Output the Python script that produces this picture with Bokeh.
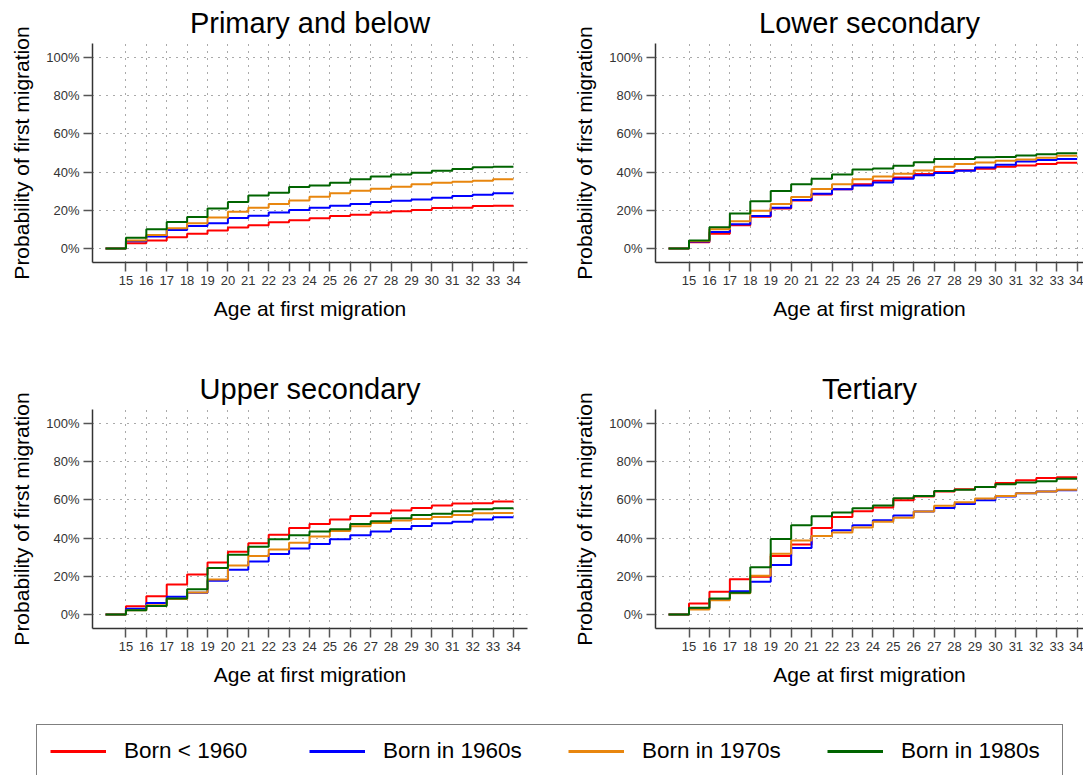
from bokeh.plotting import figure
from bokeh.layouts import column, row
from bokeh.models import Range1d, FixedTicker, PrintfTickFormatter, Legend, LegendItem
from bokeh.embed import file_html
from bokeh.resources import INLINE

# Cumulative probability (%) of first migration by age, ages 14..34
ages = list(range(14, 35))
x_ticks = list(range(15, 35))
y_ticks = [0, 20, 40, 60, 80, 100]

cohorts = ["Born < 1960", "Born in 1960s", "Born in 1970s", "Born in 1980s"]
colors = ["#ff0000", "#0000ff", "#e8860e", "#006400"]

primary_pre1960 = [0, 2.8, 4.2, 5.9, 7.7, 9.4, 11.0, 12.2, 13.7, 14.8, 15.8, 17.0, 17.7, 18.8, 19.5, 20.2, 21.2, 21.4, 22.3, 22.4, 22.4]
primary_1960s = [0, 3.8, 6.3, 9.7, 11.8, 13.2, 16.0, 17.2, 18.8, 20.2, 21.4, 22.4, 23.3, 24.3, 25.0, 25.7, 26.6, 27.5, 28.2, 28.9, 28.9]
primary_1970s = [0, 4.2, 7.1, 10.6, 13.2, 16.2, 19.3, 21.4, 23.3, 25.2, 27.1, 28.9, 30.3, 31.3, 32.3, 33.6, 34.4, 35.0, 35.5, 36.2, 36.2]
primary_1980s = [0, 5.7, 10.1, 13.9, 16.5, 21.0, 24.3, 27.8, 29.2, 32.2, 33.0, 34.4, 36.3, 37.7, 38.8, 39.7, 40.7, 41.6, 42.6, 42.8, 42.8]

lowersec_pre1960 = [0, 3.3, 7.7, 12.2, 16.7, 21.0, 25.2, 28.3, 31.0, 33.6, 35.5, 37.2, 39.0, 40.0, 41.0, 41.7, 42.8, 43.5, 44.2, 44.9, 44.9]
lowersec_1960s = [0, 3.7, 8.7, 12.7, 17.0, 21.4, 25.4, 28.7, 31.0, 33.0, 34.6, 36.5, 38.3, 39.5, 40.7, 42.4, 43.8, 45.6, 46.4, 46.8, 46.8]
lowersec_1970s = [0, 4.0, 10.1, 14.3, 19.8, 23.3, 27.0, 31.1, 33.6, 36.2, 37.7, 39.1, 40.9, 42.8, 44.2, 45.0, 45.9, 46.6, 47.5, 48.5, 48.5]
lowersec_1980s = [0, 4.2, 11.1, 18.3, 24.7, 30.1, 33.7, 36.5, 38.8, 41.4, 41.9, 43.3, 45.2, 46.8, 46.8, 47.8, 47.9, 48.7, 49.4, 49.9, 49.9]

uppersec_pre1960 = [0, 4.4, 9.6, 15.7, 21.0, 27.3, 32.9, 37.3, 41.8, 45.3, 47.4, 49.7, 51.6, 53.0, 54.4, 55.8, 57.0, 58.1, 58.3, 59.1, 59.1]
uppersec_1960s = [0, 3.0, 6.1, 9.3, 11.4, 17.7, 23.4, 27.8, 31.7, 34.5, 36.9, 39.4, 41.5, 43.4, 44.8, 46.4, 47.8, 48.6, 49.7, 50.9, 50.9]
uppersec_1970s = [0, 2.3, 4.9, 8.2, 11.5, 18.4, 25.7, 30.6, 34.1, 37.6, 40.8, 43.7, 46.2, 47.9, 49.2, 50.0, 51.1, 52.1, 53.0, 53.2, 53.2]
uppersec_1980s = [0, 2.3, 4.5, 8.4, 13.3, 24.3, 31.3, 35.5, 39.4, 41.5, 43.4, 44.6, 47.4, 48.8, 50.4, 52.1, 52.7, 54.1, 55.1, 55.6, 55.6]

tertiary_pre1960 = [0, 5.8, 11.9, 18.5, 19.8, 30.6, 36.7, 45.3, 51.1, 54.1, 56.0, 59.8, 61.8, 64.4, 65.6, 66.8, 68.8, 70.3, 71.4, 71.9, 71.9]
tertiary_1960s = [0, 3.3, 8.2, 12.2, 17.1, 25.9, 34.8, 41.1, 44.1, 46.7, 49.3, 51.8, 53.9, 55.8, 57.9, 59.8, 61.8, 63.5, 64.4, 65.1, 65.1]
tertiary_1970s = [0, 2.6, 7.5, 11.2, 20.3, 31.8, 38.7, 41.1, 42.9, 45.6, 48.6, 50.7, 53.9, 56.9, 58.8, 60.7, 62.1, 63.5, 64.4, 65.3, 65.3]
tertiary_1980s = [0, 3.5, 8.4, 11.4, 24.8, 39.5, 46.7, 51.4, 53.4, 55.6, 57.0, 60.9, 62.1, 64.6, 65.3, 66.8, 68.2, 69.1, 69.8, 71.0, 71.0]

FONT = "Liberation Sans"


def panel(title, series, width, height, x_end, border_left, border_right, border_bottom):
    p = figure(width=width, height=height, output_backend="svg", toolbar_location=None,
               x_range=Range1d(13.36, x_end), y_range=Range1d(-7.3, 107.3),
               min_border_left=border_left, min_border_right=border_right,
               min_border_top=43, min_border_bottom=border_bottom)
    p.outline_line_color = None
    p.background_fill_color = "white"
    p.border_fill_color = "white"

    p.title.text = title
    p.title.align = "center"
    p.title.text_font = FONT
    p.title.text_font_size = "29px"
    p.title.text_font_style = "normal"
    p.title.text_color = "black"
    p.title.standoff = 9

    for ax in (p.xaxis[0], p.yaxis[0]):
        ax.axis_line_color = "#333333"
        ax.axis_line_width = 1.5
        ax.major_tick_in = 0
        ax.major_tick_out = 9
        ax.major_tick_line_color = "#555555"
        ax.major_tick_line_width = 1.5
        ax.minor_tick_line_color = None
        ax.major_label_text_font = FONT
        ax.major_label_text_font_size = "13px"
        ax.major_label_text_color = "#333333"
        ax.major_label_standoff = 4
        ax.axis_label_text_font = FONT
        ax.axis_label_text_font_size = "21px"
        ax.axis_label_text_font_style = "normal"
        ax.axis_label_text_color = "black"

    p.xaxis.ticker = FixedTicker(ticks=x_ticks)
    p.xaxis.axis_label = "Age at first migration"
    p.xaxis.axis_label_standoff = 9
    p.yaxis.ticker = FixedTicker(ticks=y_ticks)
    p.yaxis.formatter = PrintfTickFormatter(format="%d%%")
    p.yaxis.axis_label = "Probability of first migration"
    p.yaxis.axis_label_standoff = 10

    p.xgrid.ticker = FixedTicker(ticks=x_ticks)
    p.ygrid.ticker = FixedTicker(ticks=y_ticks)
    for g in (p.xgrid[0], p.ygrid[0]):
        g.grid_line_color = "#555555"
        g.grid_line_dash = "1 6"
        g.grid_line_width = 1

    for vals, c in zip(series, colors):
        p.step(ages, vals, mode="after", line_color=c, line_width=2)
    return p


p1 = panel("Primary and below",
           [primary_pre1960, primary_1960s, primary_1970s, primary_1980s],
           541, 366, 34.69, 92, 14, 104)
p2 = panel("Lower secondary",
           [lowersec_pre1960, lowersec_1960s, lowersec_1970s, lowersec_1980s],
           542, 366, 34.31, 114, 0, 104)
p3 = panel("Upper secondary",
           [uppersec_pre1960, uppersec_1960s, uppersec_1970s, uppersec_1980s],
           541, 356, 34.69, 92, 14, 94)
p4 = panel("Tertiary",
           [tertiary_pre1960, tertiary_1960s, tertiary_1970s, tertiary_1980s],
           542, 356, 34.31, 114, 0, 94)

# Shared legend strip along the bottom; the key lines sit outside the visible range
lf = figure(width=1083, height=53, output_backend="svg", toolbar_location=None,
            min_border=0, x_range=Range1d(0, 1), y_range=Range1d(0, 1))
lf.axis.visible = False
lf.grid.visible = False
lf.outline_line_color = None
items = []
for name, c in zip(cohorts, colors):
    r = lf.line(x=[-5, -4], y=[-5, -5], line_color=c, line_width=3)
    items.append(LegendItem(label=name, renderers=[r]))
leg = Legend(items=items, orientation="horizontal", location=(36, -3),
             padding=13, spacing=37, glyph_width=56, glyph_height=24,
             label_standoff=18, label_width=148,
             label_text_font=FONT, label_text_font_size="22.5px", label_text_color="black",
             border_line_color="black", border_line_width=1.5,
             background_fill_color="white", background_fill_alpha=1.0, margin=0)
lf.add_layout(leg, "center")

layout = column(row(p1, p2), row(p3, p4), lf)
open("out.html", "w").write(file_html(layout, INLINE))
